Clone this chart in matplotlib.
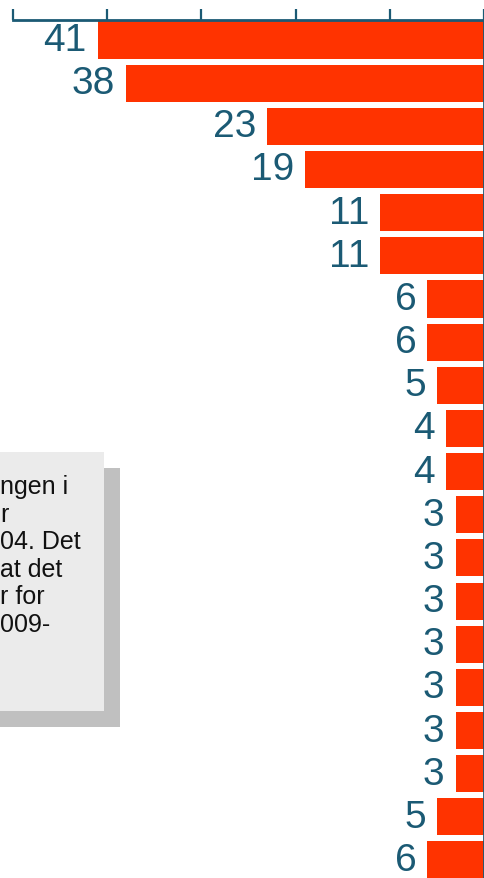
import matplotlib
matplotlib.use("Agg")
import matplotlib.pyplot as plt
from matplotlib.patches import Rectangle

values = [41, 38, 23, 19, 11, 11, 6, 6, 5, 4, 4, 3, 3, 3, 3, 3, 3, 3, 5, 6]
tick_values = [0, 10, 20, 30, 40, 50]
note_lines = ["ngen i", "r", "04. Det", "at det", "r for", "009-"]

bar_color = "#FF3300"
axis_color = "#1B5A74"
label_color = "#1B5A74"

W, H = 485, 879
fig = plt.figure(figsize=(W / 100, H / 100), dpi=100)
plt.rcParams['font.family'] = ['Liberation Sans', 'DejaVu Sans']

left_px, right_px, top_px = 13, 484, 21
ax = fig.add_axes([left_px / W, 0, (right_px - left_px) / W, 1 - top_px / H])

pos = list(range(len(values)))
ax.barh(pos, values, height=0.86, color=bar_color, zorder=2)
ax.set_xlim(50, 0)
pitch = 43.16
ax.set_ylim((H - 41) / pitch, -(41 - top_px) / pitch)

for p, v in zip(pos, values):
    ax.annotate(str(v), xy=(v, p), xytext=(-8, 0), textcoords="offset points",
                ha="right", va="center", fontsize=28, color=label_color,
                annotation_clip=False)

ax.xaxis.tick_top()
ax.set_xticks(tick_values)
ax.set_xticklabels([])
ax.set_yticks([])
ax.tick_params(axis="x", direction="out", length=8, width=1.6, color=axis_color)
for s in ["left", "bottom"]:
    ax.spines[s].set_visible(False)
for s in ["top", "right"]:
    ax.spines[s].set_color(axis_color)
    ax.spines[s].set_linewidth(2)

# note box with shadow (figure pixel coords)
def fig_rect(x0, y0, x1, y1, color, z):
    r = Rectangle((x0 / W, 1 - y1 / H), (x1 - x0) / W, (y1 - y0) / H,
                  transform=fig.transFigure, facecolor=color, edgecolor="none", zorder=z)
    fig.patches.append(r)

fig_rect(0, 469, 120, 728, "#C0C0C0", 5)
fig_rect(0, 453, 104, 712, "#EBEBEB", 6)

for i, line in enumerate(note_lines):
    fig.text(0 / W, 1 - (494 + 27.6 * i) / H, line, ha="left", va="baseline",
             fontsize=18, color="#111111", zorder=7)

fig.savefig("out.png", dpi=100)
